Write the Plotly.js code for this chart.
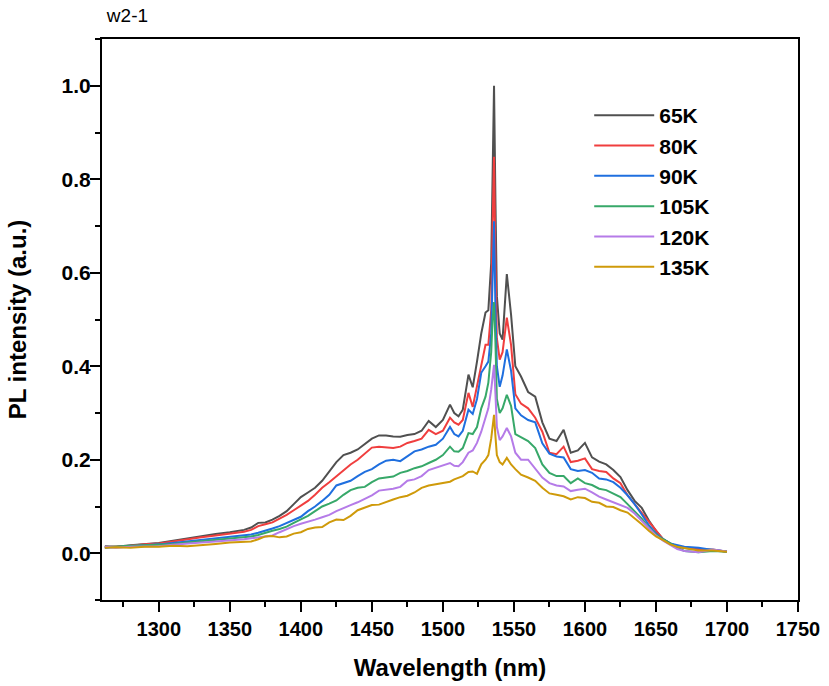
<!DOCTYPE html>
<html>
<head>
<meta charset="utf-8">
<script src="https://cdn.plot.ly/plotly-3.0.1.min.js"></script>
<style>html,body{margin:0;padding:0;background:#fff;}#chart{width:829px;height:686px;}</style>
</head>
<body>
<div id="chart"></div>
<script>
const wavelength = [1262,1270,1280,1290,1300,1310,1320,1330,1340,1350,1360,
 1365,1370,1375,1380,1385,1390,1395,1400,1405,1410,1415,1420,1425,1430,1435,1440,1445,1450,1455,1460,1465,1470,1475,1480,1485,1490,1495,1500,1505,
 1508,1511,1514,1518,1521,1524,1527,1530,1532,1534,1535,1536,1537,1538,1540,1542,1545,1548,1551,
 1555,1560,1565,1570,1575,1580,1585,1590,1595,1600,1605,1610,1615,1620,1625,1630,1635,1640,1645,1650,1655,1660,1665,1670,
 1680,1690,1700];

const seriesNames = ["65K","80K","90K","105K","120K","135K"];

const k65 = [0.015,0.014,0.017,0.020,0.022,0.027,0.032,0.036,0.041,0.045,0.050,
 0.055,0.065,0.066,0.072,0.080,0.090,0.105,0.120,0.130,0.140,0.155,0.175,0.195,0.210,0.215,0.222,0.233,0.245,0.252,0.252,0.250,0.249,0.253,0.255,0.262,0.283,0.270,0.285,0.318,
 0.300,0.293,0.307,0.382,0.355,0.410,0.470,0.515,0.520,0.620,0.820,1.000,0.750,0.550,0.470,0.457,0.597,0.510,0.400,
 0.378,0.345,0.335,0.280,0.245,0.240,0.264,0.215,0.220,0.236,0.205,0.196,0.190,0.178,0.163,0.135,0.112,0.097,0.070,0.048,0.030,0.021,0.015,0.011,
 0.008,0.008,0.003];

const k80 = [0.013,0.014,0.016,0.019,0.021,0.025,0.030,0.034,0.038,0.042,0.046,
 0.050,0.058,0.062,0.066,0.074,0.082,0.092,0.102,0.112,0.125,0.140,0.152,0.165,0.178,0.190,0.200,0.212,0.226,0.228,0.226,0.225,0.228,0.236,0.240,0.245,0.264,0.255,0.262,0.290,
 0.280,0.275,0.285,0.343,0.313,0.360,0.400,0.446,0.446,0.520,0.700,0.848,0.620,0.460,0.414,0.430,0.504,0.445,0.340,
 0.320,0.310,0.290,0.260,0.215,0.212,0.228,0.195,0.198,0.203,0.180,0.176,0.174,0.160,0.150,0.124,0.105,0.087,0.068,0.047,0.030,0.020,0.015,0.012,
 0.009,0.007,0.004];

const k90 = [0.012,0.013,0.015,0.017,0.019,0.022,0.026,0.029,0.031,0.034,0.037,
 0.040,0.044,0.048,0.053,0.058,0.065,0.072,0.078,0.090,0.100,0.112,0.125,0.145,0.150,0.155,0.165,0.174,0.180,0.190,0.198,0.200,0.197,0.207,0.218,0.222,0.228,0.232,0.245,0.270,
 0.255,0.250,0.262,0.307,0.298,0.330,0.386,0.400,0.410,0.470,0.600,0.710,0.520,0.400,0.356,0.380,0.436,0.390,0.310,
 0.295,0.285,0.280,0.235,0.213,0.207,0.205,0.180,0.176,0.178,0.172,0.160,0.158,0.152,0.140,0.124,0.105,0.083,0.060,0.042,0.030,0.021,0.017,0.014,
 0.012,0.007,0.004];

const k105 = [0.013,0.015,0.016,0.017,0.018,0.020,0.023,0.026,0.029,0.031,0.034,
 0.036,0.039,0.044,0.048,0.052,0.057,0.065,0.072,0.080,0.090,0.100,0.106,0.113,0.125,0.135,0.140,0.142,0.152,0.160,0.162,0.164,0.172,0.176,0.182,0.186,0.193,0.200,0.210,0.228,
 0.218,0.217,0.225,0.257,0.255,0.270,0.310,0.335,0.365,0.430,0.500,0.537,0.450,0.330,0.300,0.310,0.339,0.315,0.255,
 0.248,0.240,0.225,0.190,0.172,0.165,0.165,0.150,0.160,0.150,0.146,0.138,0.135,0.128,0.120,0.105,0.090,0.074,0.055,0.040,0.030,0.021,0.012,0.005,
 0.002,0.005,0.003];

const k120 = [0.014,0.012,0.014,0.015,0.015,0.018,0.021,0.023,0.025,0.027,0.030,
 0.032,0.034,0.036,0.038,0.045,0.052,0.058,0.063,0.067,0.072,0.077,0.082,0.090,0.097,0.103,0.109,0.116,0.124,0.134,0.136,0.138,0.142,0.155,0.158,0.165,0.178,0.183,0.188,0.193,
 0.187,0.186,0.195,0.215,0.220,0.236,0.260,0.292,0.310,0.350,0.385,0.403,0.340,0.270,0.242,0.250,0.268,0.250,0.215,
 0.200,0.200,0.180,0.162,0.150,0.145,0.143,0.133,0.136,0.138,0.130,0.121,0.115,0.109,0.103,0.097,0.085,0.069,0.052,0.038,0.027,0.018,0.009,0.005,
 0.002,0.008,0.004];

const k135 = [0.012,0.013,0.012,0.014,0.014,0.016,0.015,0.017,0.020,0.023,0.024,
 0.025,0.030,0.036,0.037,0.034,0.036,0.042,0.045,0.052,0.055,0.056,0.066,0.072,0.071,0.080,0.092,0.098,0.103,0.104,0.110,0.115,0.120,0.123,0.130,0.140,0.145,0.148,0.150,0.153,
 0.158,0.162,0.165,0.174,0.175,0.170,0.190,0.200,0.210,0.245,0.275,0.296,0.250,0.210,0.195,0.190,0.204,0.190,0.180,
 0.168,0.162,0.155,0.140,0.128,0.125,0.122,0.115,0.120,0.118,0.110,0.108,0.100,0.099,0.092,0.087,0.075,0.062,0.048,0.036,0.028,0.019,0.014,0.011,
 0.006,0.006,0.003];

const seriesValues = [k65, k80, k90, k105, k120, k135];
const colors = ["#505050","#F03E3E","#1F6FDF","#37A869","#B57BE8","#CF9A0A"];

const xTickVals = [1300,1350,1400,1450,1500,1550,1600,1650,1700,1750];
const yTickVals = [0.0,0.2,0.4,0.6,0.8,1.0];

const traces = seriesNames.map((n, i) => ({
  type: "scatter", mode: "lines", name: n,
  x: wavelength, y: seriesValues[i],
  line: {color: colors[i], width: 2}
}));

const FONT = "Liberation Sans, Arial, sans-serif";
const layout = {
  width: 829, height: 686,
  margin: {l: 102, r: 31, t: 39, b: 86},
  paper_bgcolor: "#fff", plot_bgcolor: "#fff",
  font: {family: FONT, color: "#000"},
  title: {text: "w2-1", font: {family: FONT, size: 19, color: "#000"},
          xref: "paper", x: 0.007, xanchor: "left", yref: "container", y: 0.978, yanchor: "middle"},
  showlegend: true,
  legend: {x: 0.7, y: 0.9, xanchor: "left", yanchor: "top",
           bgcolor: "rgba(0,0,0,0)", borderwidth: 0, itemwidth: 60,
           font: {family: FONT, size: 21, weight: "bold", color: "#000"},
           tracegroupgap: 0},
  xaxis: {
    range: [1260, 1750], tickvals: xTickVals, ticks: "outside", ticklen: 10, tickwidth: 2, tickcolor: "#000",
    showline: true, linewidth: 2, linecolor: "#000", mirror: true, showgrid: false, zeroline: false,
    tickfont: {family: FONT, size: 20, weight: "bold", color: "#000"},
    minor: {dtick: 25, tick0: 1250, ticks: "outside", ticklen: 5, tickwidth: 2, tickcolor: "#000", showgrid: false},
    title: {text: "Wavelength (nm)", font: {family: FONT, size: 24, weight: "bold", color: "#000"}, standoff: 20}
  },
  yaxis: {
    range: [-0.1, 1.1], tickvals: yTickVals, tickformat: ".1f", ticks: "outside", ticklen: 10, tickwidth: 2, tickcolor: "#000",
    showline: true, linewidth: 2, linecolor: "#000", mirror: true, showgrid: false, zeroline: false,
    ticklabelstandoff: -5,
    tickfont: {family: FONT, size: 21, weight: "bold", color: "#000"},
    minor: {dtick: 0.1, tick0: 0, ticks: "outside", ticklen: 5, tickwidth: 2, tickcolor: "#000", showgrid: false},
    title: {text: "PL intensity (a.u.)", font: {family: FONT, size: 24, weight: "bold", color: "#000"}, standoff: 28}
  }
};

Plotly.newPlot("chart", traces, layout, {displayModeBar: false, staticPlot: true});
</script>
</body>
</html>
